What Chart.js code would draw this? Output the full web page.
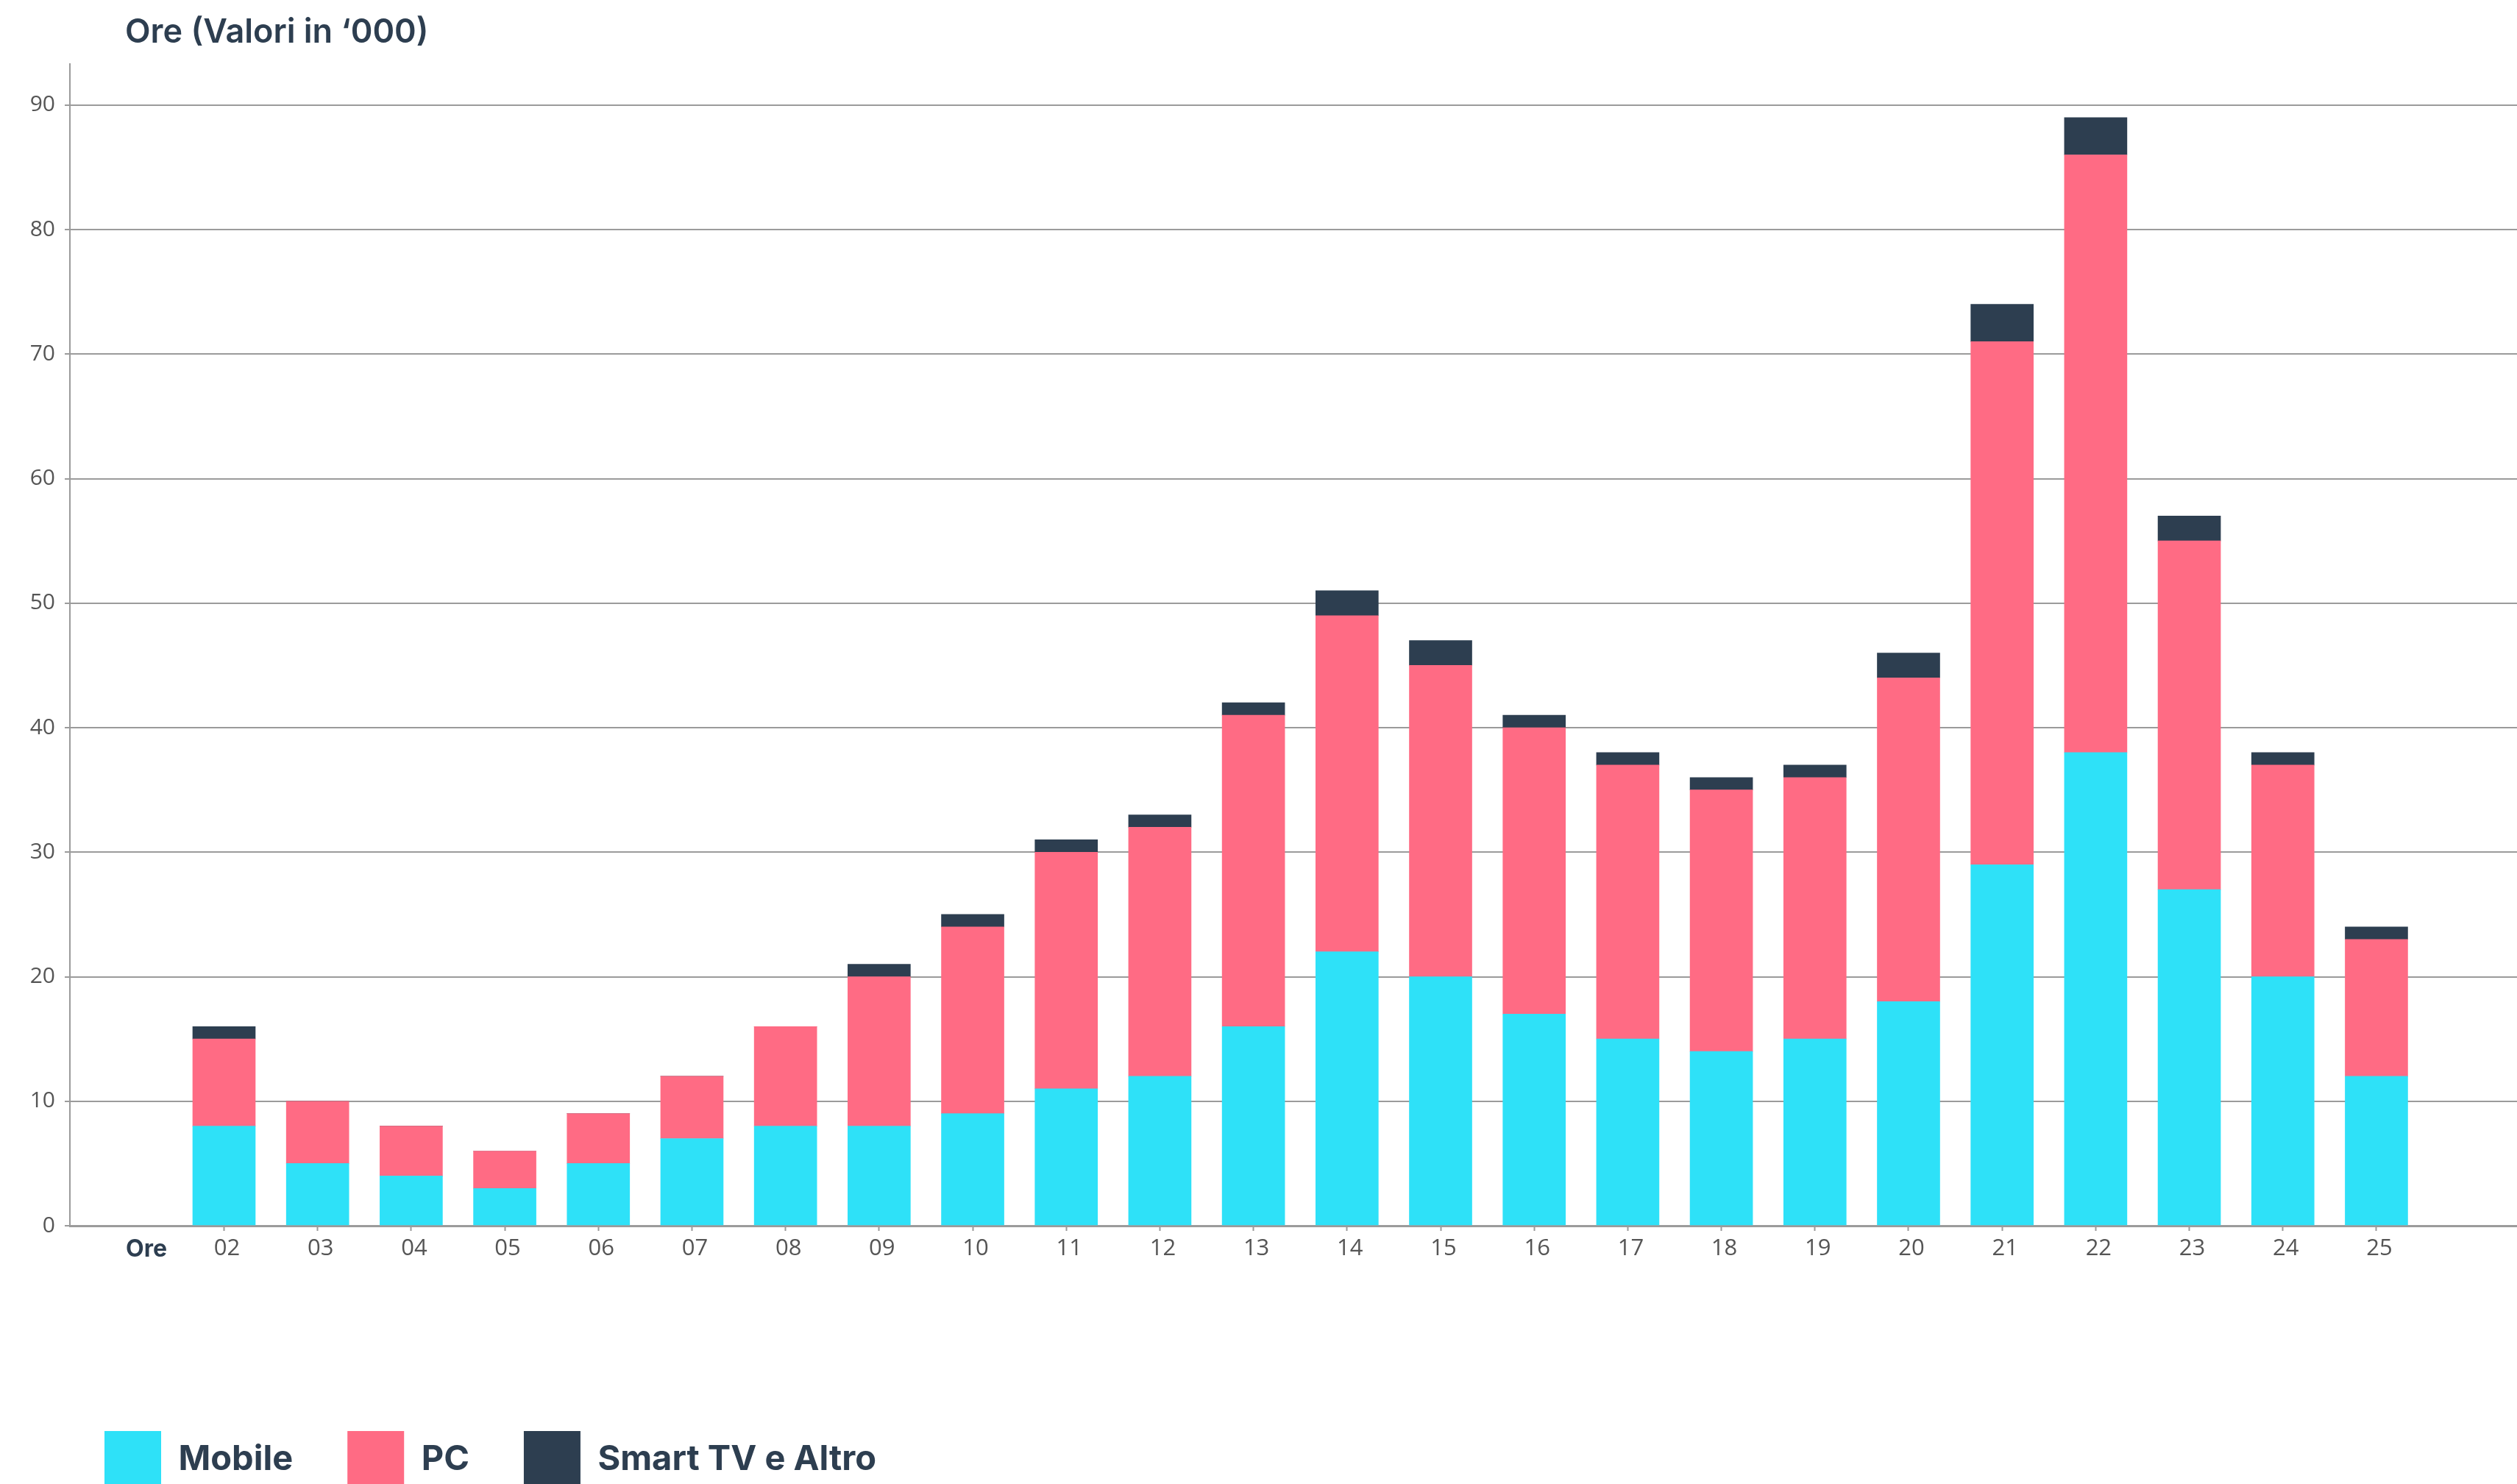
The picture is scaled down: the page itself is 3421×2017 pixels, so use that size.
<!DOCTYPE html>
<html>
<head>
<meta charset="utf-8">
<script src="https://cdn.jsdelivr.net/npm/chart.js@4.4.1/dist/chart.umd.min.js"></script>
<style>
  html, body { margin: 0; padding: 0; background: #fff; overflow: hidden; }
</style>
</head>
<body>
<canvas id="oreChart" width="3421" height="2017"></canvas>
<script>
// ore (asse x) e valori in migliaia
const ore = [2, 3, 4, 5, 6, 7, 8, 9, 10, 11, 12, 13, 14, 15, 16, 17, 18, 19, 20, 21, 22, 23, 24, 25];
const mobile = [8, 5, 4, 3, 5, 7, 8, 8, 9, 11, 12, 16, 22, 20, 17, 15, 14, 15, 18, 29, 38, 27, 20, 12];
const pc = [7, 5, 4, 3, 4, 5, 8, 12, 15, 19, 20, 25, 27, 25, 23, 22, 21, 21, 26, 42, 48, 28, 17, 11];
const smartTv = [1, 0, 0, 0, 0, 0, 0, 1, 1, 1, 1, 1, 2, 2, 1, 1, 1, 1, 2, 3, 3, 2, 1, 1];
const yTicks = [0, 10, 20, 30, 40, 50, 60, 70, 80, 90];

const blu = "#2d3e50";
const grigio = "#9b9b9b";

// trasforma una serie in punti {x, y}
function punti(serie) {
    return serie.map((v, i) => ({ x: ore[i], y: v }));
}

// sposta titolo e legenda dove stanno nell'originale
const posizioni = {
    id: "posizioni",
    afterLayout(chart) {
        chart.titleBlock.left = 170;
        const pad = chart.legend.options.labels.padding;
        chart.legend.left = 142 - pad;
        chart.legend.top = 1945 - pad;
    }
};

new Chart(document.getElementById("oreChart").getContext("2d"), {
    type: "bar",
    data: {
        datasets: [
            { label: "Mobile", data: punti(mobile), backgroundColor: "#2ee1f8" },
            { label: "PC", data: punti(pc), backgroundColor: "#ff6b84" },
            { label: "Smart TV e Altro", data: punti(smartTv), backgroundColor: blu }
        ]
    },
    options: {
        responsive: false,
        animation: false,
        devicePixelRatio: 1,
        layout: { padding: 0 },
        datasets: { bar: { barThickness: 85 } },
        plugins: {
            tooltip: { enabled: false },
            title: {
                display: true,
                text: "Ore (Valori in \u2018000)",
                align: "start",
                color: blu,
                font: { family: "Inter", size: 45, weight: "600", lineHeight: 1.2 },
                padding: { top: 17, bottom: 16 }
            },
            legend: {
                position: "bottom",
                align: "start",
                labels: {
                    boxWidth: 77,
                    boxHeight: 77,
                    padding: 74,
                    color: blu,
                    font: { family: "Inter", size: 47, weight: "bold" }
                }
            }
        },
        scales: {
            x: {
                type: "linear",
                stacked: true,
                offset: false,
                min: 0.353,
                max: 26.502,
                afterBuildTicks: s => {
                    s.ticks = [{ value: 1.139 }].concat(ore.map(o => ({ value: o })));
                },
                afterFit: s => {
                    s.height = s.chart.height - s.chart.legend.height - 1666;
                },
                ticks: {
                    autoSkip: false,
                    maxRotation: 0,
                    padding: 6,
                    labelOffset: 4,
                    callback: (v, i) => i === 0 ? "Ore" : String(ore[i - 1]).padStart(2, "0"),
                    color: ctx => ctx.index === 0 ? blu : "#555",
                    font: ctx => ctx.index === 0
                        ? { family: "Inter", size: 32, weight: "bold" }
                        : { family: "Open Sans", size: 31 }
                },
                grid: {
                    offset: false,
                    drawOnChartArea: false,
                    tickLength: 7,
                    tickWidth: 2,
                    tickColor: ctx => ctx.index === 0 ? "rgba(0,0,0,0)" : grigio
                },
                border: { color: grigio, width: 3 }
            },
            y: {
                stacked: true,
                min: 0,
                max: 93.3,
                afterBuildTicks: s => {
                    s.ticks = yTicks.map(v => ({ value: v }));
                },
                afterFit: s => { s.width = 95; },
                ticks: {
                    padding: 13,
                    color: "#555",
                    font: { family: "Open Sans", size: 30 }
                },
                grid: {
                    color: grigio,
                    lineWidth: 2,
                    tickLength: 7
                },
                border: { color: grigio, width: 2 }
            }
        }
    },
    plugins: [posizioni]
});
</script>
</body>
</html>
